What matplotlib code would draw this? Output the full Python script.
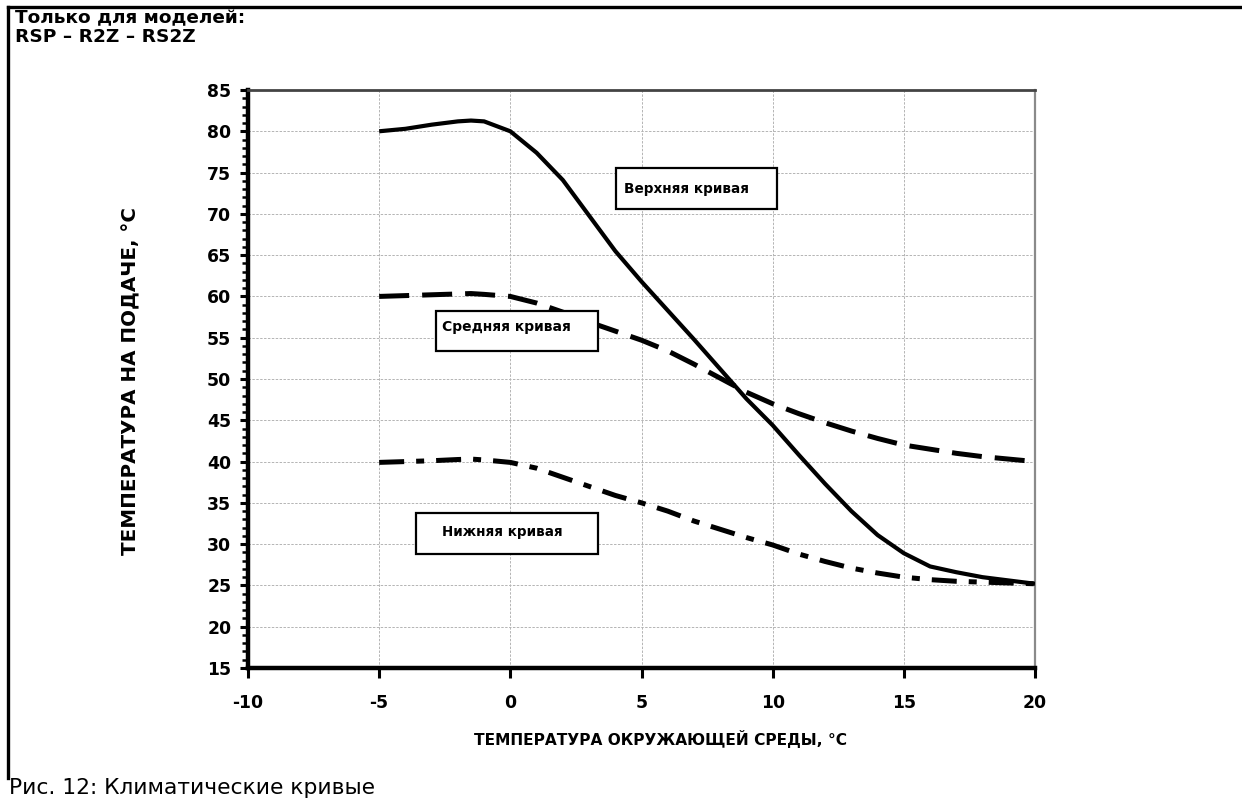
import matplotlib
matplotlib.use("Agg")
import matplotlib.pyplot as plt
from matplotlib.lines import Line2D
from matplotlib.patches import Rectangle
from matplotlib.ticker import MultipleLocator

plt.rcParams['font.family'] = ['DejaVu Sans']
plt.rcParams['axes.unicode_minus'] = False

# ---- data ----
x_vals = [-5, -4, -3, -2, -1.5, -1, 0, 1, 2, 3, 4, 5, 6, 7, 8, 9, 10, 11, 12, 13, 14, 15, 16, 17, 18, 19, 20]
upper = [80.0, 80.3, 80.8, 81.2, 81.3, 81.2, 80.0, 77.4, 74.1, 69.8, 65.5, 61.8, 58.3, 54.8, 51.2, 47.6,
         44.4, 40.8, 37.3, 34.0, 31.1, 28.9, 27.3, 26.6, 26.0, 25.6, 25.2]
middle = [60.0, 60.1, 60.2, 60.3, 60.35, 60.25, 60.0, 59.2, 58.1, 56.9, 55.8, 54.7, 53.4, 51.8, 50.1, 48.4,
          47.0, 45.8, 44.7, 43.7, 42.8, 42.0, 41.5, 41.0, 40.6, 40.3, 40.0]
lower = [39.9, 40.0, 40.1, 40.25, 40.3, 40.2, 39.9, 39.2, 38.1, 37.0, 35.9, 35.0, 34.0, 32.8, 31.8, 30.8,
         29.9, 28.8, 27.9, 27.1, 26.5, 26.0, 25.7, 25.5, 25.4, 25.3, 25.2]

x_ticks = [-10, -5, 0, 5, 10, 15, 20]
y_ticks = [15, 20, 25, 30, 35, 40, 45, 50, 55, 60, 65, 70, 75, 80, 85]

labels = ["Верхняя кривая", "Средняя кривая", "Нижняя кривая"]
header1 = "Только для моделей:"
header2 = "RSP – R2Z – RS2Z"
x_label = "ТЕМПЕРАТУРА ОКРУЖАЮЩЕЙ СРЕДЫ, °C"
y_label = "ТЕМПЕРАТУРА НА ПОДАЧЕ, °C"
caption = "Рис. 12: Климатические кривые"

W, H = 1242, 807
fig = plt.figure(figsize=(W / 100, H / 100), dpi=100)
fig.patch.set_facecolor('white')
renderer = fig.canvas.get_renderer()


def fx(px):
    return px / W


def fy(py):
    return 1 - py / H


def fit(t, target, vertical=False):
    bb = t.get_window_extent(renderer)
    cur = bb.height if vertical else bb.width
    t.set_fontsize(t.get_fontsize() * target / cur)
    return t


def size_for(text, target, **kw):
    probe = fig.text(0, 0, text, fontsize=10, **kw)
    bb = probe.get_window_extent(renderer)
    probe.remove()
    return 10 * target / bb.width


ax = fig.add_axes([fx(248), fy(668), (1035 - 248) / W, (668 - 90) / H])
ax.set_xlim(-10, 20)
ax.set_ylim(15, 85)

ax.plot(x_vals, upper, color='black', lw=3.0, solid_capstyle='butt', zorder=3)
ax.plot(x_vals, middle, color='black', lw=3.6, dashes=(6.0, 2.6), dash_capstyle='butt', zorder=3)
ax.plot(x_vals, lower, color='black', lw=3.6, dashes=(5.0, 2.4, 1.6, 2.4), dash_capstyle='butt', zorder=3)

ax.set_xticks(x_ticks)
ax.set_yticks(y_ticks)
ax.yaxis.set_minor_locator(MultipleLocator(1))
ax.grid(True, which='major', color='#b4b4b4', lw=0.7, linestyle=(0, (2.5, 1.5)), zorder=0)

tick_fs = size_for("20", 24, fontweight='bold')
for lab in ax.get_xticklabels() + ax.get_yticklabels():
    lab.set_fontweight('bold')
    lab.set_fontsize(tick_fs)

ax.tick_params(axis='x', direction='out', length=7, width=2.2, pad=12, color='black')
ax.tick_params(axis='y', which='major', direction='out', length=6, width=2.2, pad=6, color='black')
ax.tick_params(axis='y', which='minor', direction='out', length=4, width=1.8, color='black')

ax.spines['left'].set_linewidth(3.2)
ax.spines['bottom'].set_linewidth(3.2)
ax.spines['top'].set_linewidth(2.0)
ax.spines['top'].set_color('#444444')
ax.spines['right'].set_linewidth(1.6)
ax.spines['right'].set_color('#8a8a8a')

# axis titles
tx = fig.text(fx(660), fy(739), x_label, fontsize=12, fontweight='bold', ha='center', va='center')
fit(tx, 373)
ty = fig.text(fx(131), fy(381), y_label, fontsize=14, fontweight='bold', ha='center', va='center',
              rotation=90)
fit(ty, 348, vertical=True)

# label boxes (data coords)
boxes = [
    (4.01, 70.56, 6.17, 4.96, 4.35, 73.0, labels[0], 125),
    (-2.83, 53.4, 6.16, 4.88, -2.6, 56.3, labels[1], 129),
    (-3.6, 28.79, 6.93, 4.96, -2.6, 31.5, labels[2], 120),
]
for bx, by, bw, bh, tx_, ty_, t, wpx in boxes:
    ax.add_patch(Rectangle((bx, by), bw, bh, facecolor='white', edgecolor='black', lw=1.6, zorder=4))
    tt = ax.text(tx_, ty_, t, fontsize=10, fontweight='bold', ha='left', va='center', zorder=5)
    fit(tt, wpx)

# header, caption, frame
h1 = fig.text(fx(15), fy(18), header1, fontsize=12, fontweight='bold', ha='left', va='center')
fit(h1, 230)
fig.text(fx(15), fy(37), header2, fontsize=h1.get_fontsize(), fontweight='bold', ha='left', va='center')
cp = fig.text(fx(9), fy(788), caption, fontsize=15, ha='left', va='center')
fit(cp, 366)
fig.add_artist(Line2D([fx(8), 1.0], [fy(7), fy(7)], color='black', lw=2.4))
fig.add_artist(Line2D([fx(8), fx(8)], [fy(7), fy(778)], color='black', lw=2.4))

fig.savefig('out.png', dpi=100, facecolor='white')
